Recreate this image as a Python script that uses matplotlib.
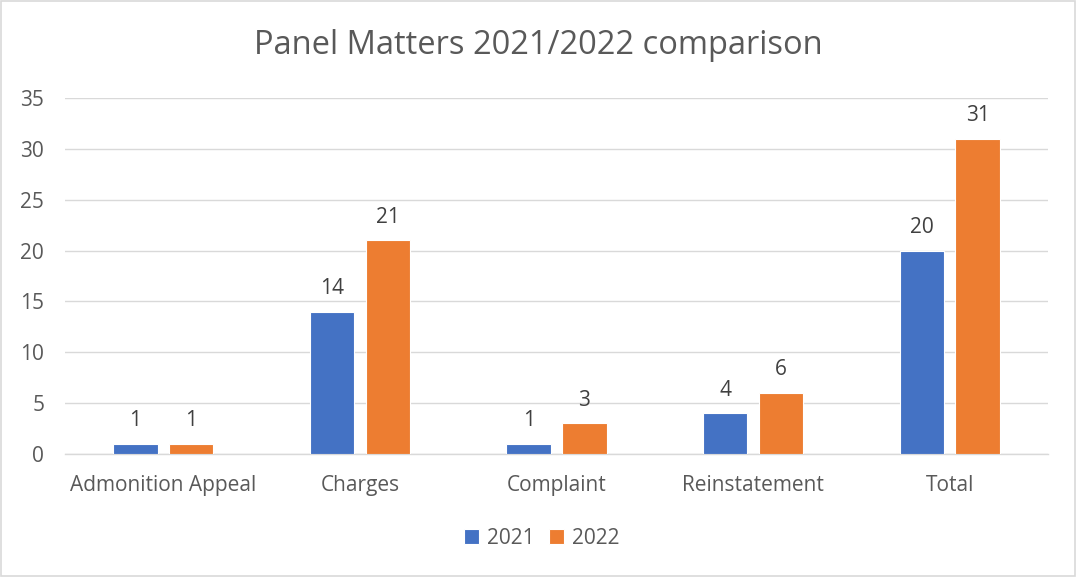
import numpy as np
import matplotlib.pyplot as plt

plt.rcParams['font.family'] = ['Open Sans', 'DejaVu Sans']

categories = ["Admonition Appeal", "Charges", "Complaint", "Reinstatement", "Total"]
v2021 = [1, 14, 1, 4, 20]
v2022 = [1, 21, 3, 6, 31]

blue = "#4472C4"
orange = "#ED7D31"
txt = "#595959"

fig = plt.figure(figsize=(10.77, 5.77), dpi=100)
ax = fig.add_axes([65 / 1077, 1 - 454 / 577, (1048 - 65) / 1077, (454 - 98) / 577])

x = np.arange(len(categories))
w = 0.225
b1 = ax.bar(x - 0.142, v2021, w, color=blue, edgecolor="white", linewidth=0.8, label="2021", zorder=3)
b2 = ax.bar(x + 0.142, v2022, w, color=orange, edgecolor="white", linewidth=0.8, label="2022", zorder=3)

for bars in (b1, b2):
    ax.bar_label(bars, padding=9, fontsize=15, color="#404040")

ax.set_xlim(-0.5, len(categories) - 0.5)
ax.set_ylim(0, 35)
ax.set_yticks(range(0, 36, 5))
ax.set_xticks(x)
ax.set_xticklabels(categories)
ax.tick_params(axis="both", length=0, labelsize=15, labelcolor=txt)
ax.tick_params(axis="x", pad=15)
ax.tick_params(axis="y", pad=15)
ax.grid(axis="y", color="#D9D9D9", linewidth=1, zorder=0)
for s in ("top", "right", "left"):
    ax.spines[s].set_visible(False)
ax.spines["bottom"].set_color("#D9D9D9")
ax.spines["bottom"].set_linewidth(1)

fig.text(0.5, 1 - 45 / 577, "Panel Matters 2021/2022 comparison", ha="center", va="center",
         fontsize=23.5, color=txt)

fig.legend(handles=[b1, b2], loc="center", bbox_to_anchor=(0.503, 1 - 538 / 577), ncol=2,
           frameon=False, fontsize=15, labelcolor=txt, handlelength=0.7, handleheight=0.7,
           columnspacing=0.7, handletextpad=0.4)

border = plt.Rectangle((0.001, 0.002), 0.997, 0.996, transform=fig.transFigure, fill=False,
                       edgecolor="#D9D9D9", linewidth=1.2)
fig.patches.append(border)

fig.savefig("out.png", dpi=100)
